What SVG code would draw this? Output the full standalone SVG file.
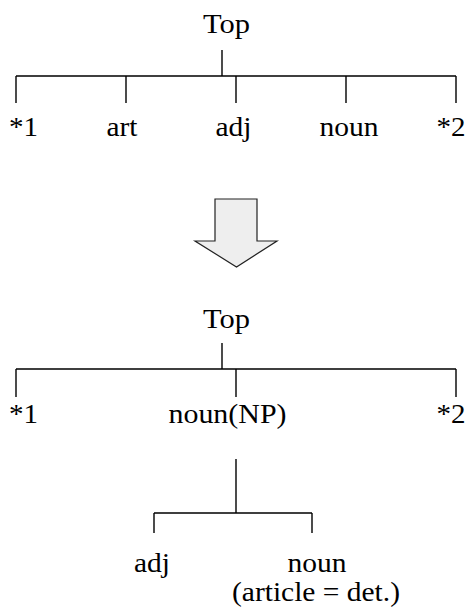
<svg xmlns="http://www.w3.org/2000/svg" width="467" height="607" viewBox="0 0 467 607">
  <style>
    .lbl { font-family: 'Liberation Serif', 'DejaVu Serif', 'Times New Roman', serif; font-size: 27px; fill: #000; text-anchor: middle; }
    .edge { stroke: #000; stroke-width: 1.4; fill: none; }
  </style>
  <rect width="467" height="607" fill="#fff"/>

  <!-- connectors -->
  <g id="connectors" class="edge">
    <!-- upper tree -->
    <path d="M222,50 V76 M16,76 H456 M16,76 V103 M126,76 V103 M236,76 V103 M346,76 V103 M456,76 V103"/>
    <!-- lower tree -->
    <path d="M222,343 V369 M16,369 H456 M16,369 V397 M236,369 V397 M456,369 V397"/>
    <!-- NP subtree -->
    <path d="M236,459 V513 M154,513 H312 M154,513 V533 M312,513 V533"/>
  </g>

  <!-- transformation arrow -->
  <g id="arrow">
    <polygon points="215,199 257,199 257,241 277,241 236.5,267 195,241 215,241" fill="#eeeeee" stroke="#222" stroke-width="1.2"/>
  </g>

  <!-- upper tree nodes -->
  <g id="top1"><text class="lbl" x="226.5" y="33" textLength="47" lengthAdjust="spacingAndGlyphs">Top</text></g>
  <g id="star1a"><text class="lbl" x="23.5" y="136" textLength="29" lengthAdjust="spacingAndGlyphs">*1</text></g>
  <g id="art"><text class="lbl" x="122" y="136" textLength="31" lengthAdjust="spacingAndGlyphs">art</text></g>
  <g id="adj1"><text class="lbl" x="233.5" y="136" textLength="36" lengthAdjust="spacingAndGlyphs">adj</text></g>
  <g id="noun1"><text class="lbl" x="349" y="136" textLength="59" lengthAdjust="spacingAndGlyphs">noun</text></g>
  <g id="star2a"><text class="lbl" x="451" y="136" textLength="29" lengthAdjust="spacingAndGlyphs">*2</text></g>

  <!-- lower tree nodes -->
  <g id="top2"><text class="lbl" x="226.5" y="328" textLength="47" lengthAdjust="spacingAndGlyphs">Top</text></g>
  <g id="star1b"><text class="lbl" x="23.5" y="423" textLength="29" lengthAdjust="spacingAndGlyphs">*1</text></g>
  <g id="np"><text class="lbl" x="227.5" y="423" textLength="118" lengthAdjust="spacingAndGlyphs">noun(NP)</text></g>
  <g id="star2b"><text class="lbl" x="451" y="423" textLength="29" lengthAdjust="spacingAndGlyphs">*2</text></g>
  <g id="adj2"><text class="lbl" x="152" y="572" textLength="36" lengthAdjust="spacingAndGlyphs">adj</text></g>
  <g id="noun2">
    <text class="lbl" x="317" y="572" textLength="59" lengthAdjust="spacingAndGlyphs">noun</text>
    <text class="lbl" x="316" y="601" textLength="168" lengthAdjust="spacingAndGlyphs">(article = det.)</text>
  </g>
</svg>
